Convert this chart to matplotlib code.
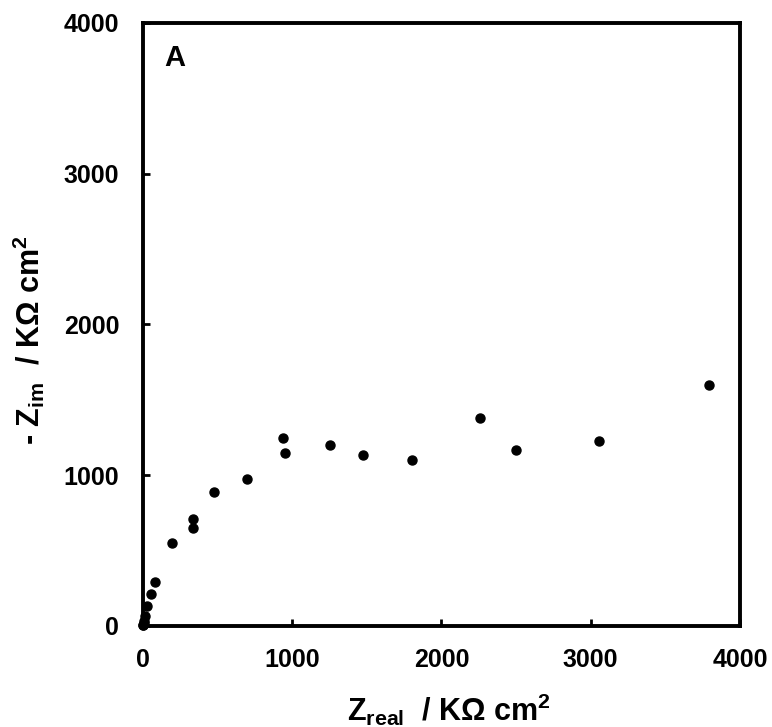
import numpy as np
import matplotlib.pyplot as plt

plt.rcParams['font.family'] = ['Liberation Sans', 'DejaVu Sans']
plt.rcParams['font.weight'] = 'bold'
plt.rcParams['mathtext.fontset'] = 'custom'
plt.rcParams['mathtext.rm'] = 'Liberation Sans:bold'
plt.rcParams['mathtext.bf'] = 'Liberation Sans:bold'
plt.rcParams['mathtext.it'] = 'Liberation Sans:bold'

# Nyquist data (KOhm cm2)
z_real = [1, 2, 4, 8, 15, 30, 51, 78, 196, 333, 333, 474, 700, 938, 949,
          1256, 1474, 1802, 2258, 2497, 3058, 3795]
z_im = [2, 6, 15, 30, 65, 130, 208, 293, 549, 649, 705, 889, 971, 1243, 1148,
        1201, 1135, 1100, 1378, 1168, 1226, 1599]
ticks = [0, 1000, 2000, 3000, 4000]

fig = plt.figure(figsize=(7.72, 7.27), dpi=100)
ax = fig.add_axes([0.1852, 0.1393, 0.7733, 0.8291])

ax.plot(z_real, z_im, 'o', color='black', markersize=6.5, clip_on=False)

ax.set_xlim(0, 4000)
ax.set_ylim(0, 4000)
ax.set_xticks(ticks)
ax.set_yticks(ticks)
ax.tick_params(axis='x', direction='in', length=5, width=2, labelsize=18, pad=16, top=False)
ax.tick_params(axis='y', direction='in', length=5, width=2, labelsize=18, pad=17, right=False)
for lab in ax.get_xticklabels() + ax.get_yticklabels():
    lab.set_fontweight('bold')
for sp in ax.spines.values():
    sp.set_linewidth(2.8)

ax.set_xlabel(r'Z$_{\mathrm{real}}$  / KΩ cm$^{\mathrm{2}}$', fontsize=22, fontweight='bold', labelpad=14)
ax.set_ylabel(r'- Z$_{\mathrm{im}}$  / KΩ cm$^{\mathrm{2}}$', fontsize=22, fontweight='bold', labelpad=12)
ax.xaxis.label.set_x(0.513)
ax.yaxis.label.set_y(0.473)
ax.text(0.035, 0.965, 'A', transform=ax.transAxes, fontsize=21, fontweight='bold', va='top', ha='left')

fig.savefig('out.png', dpi=100)
